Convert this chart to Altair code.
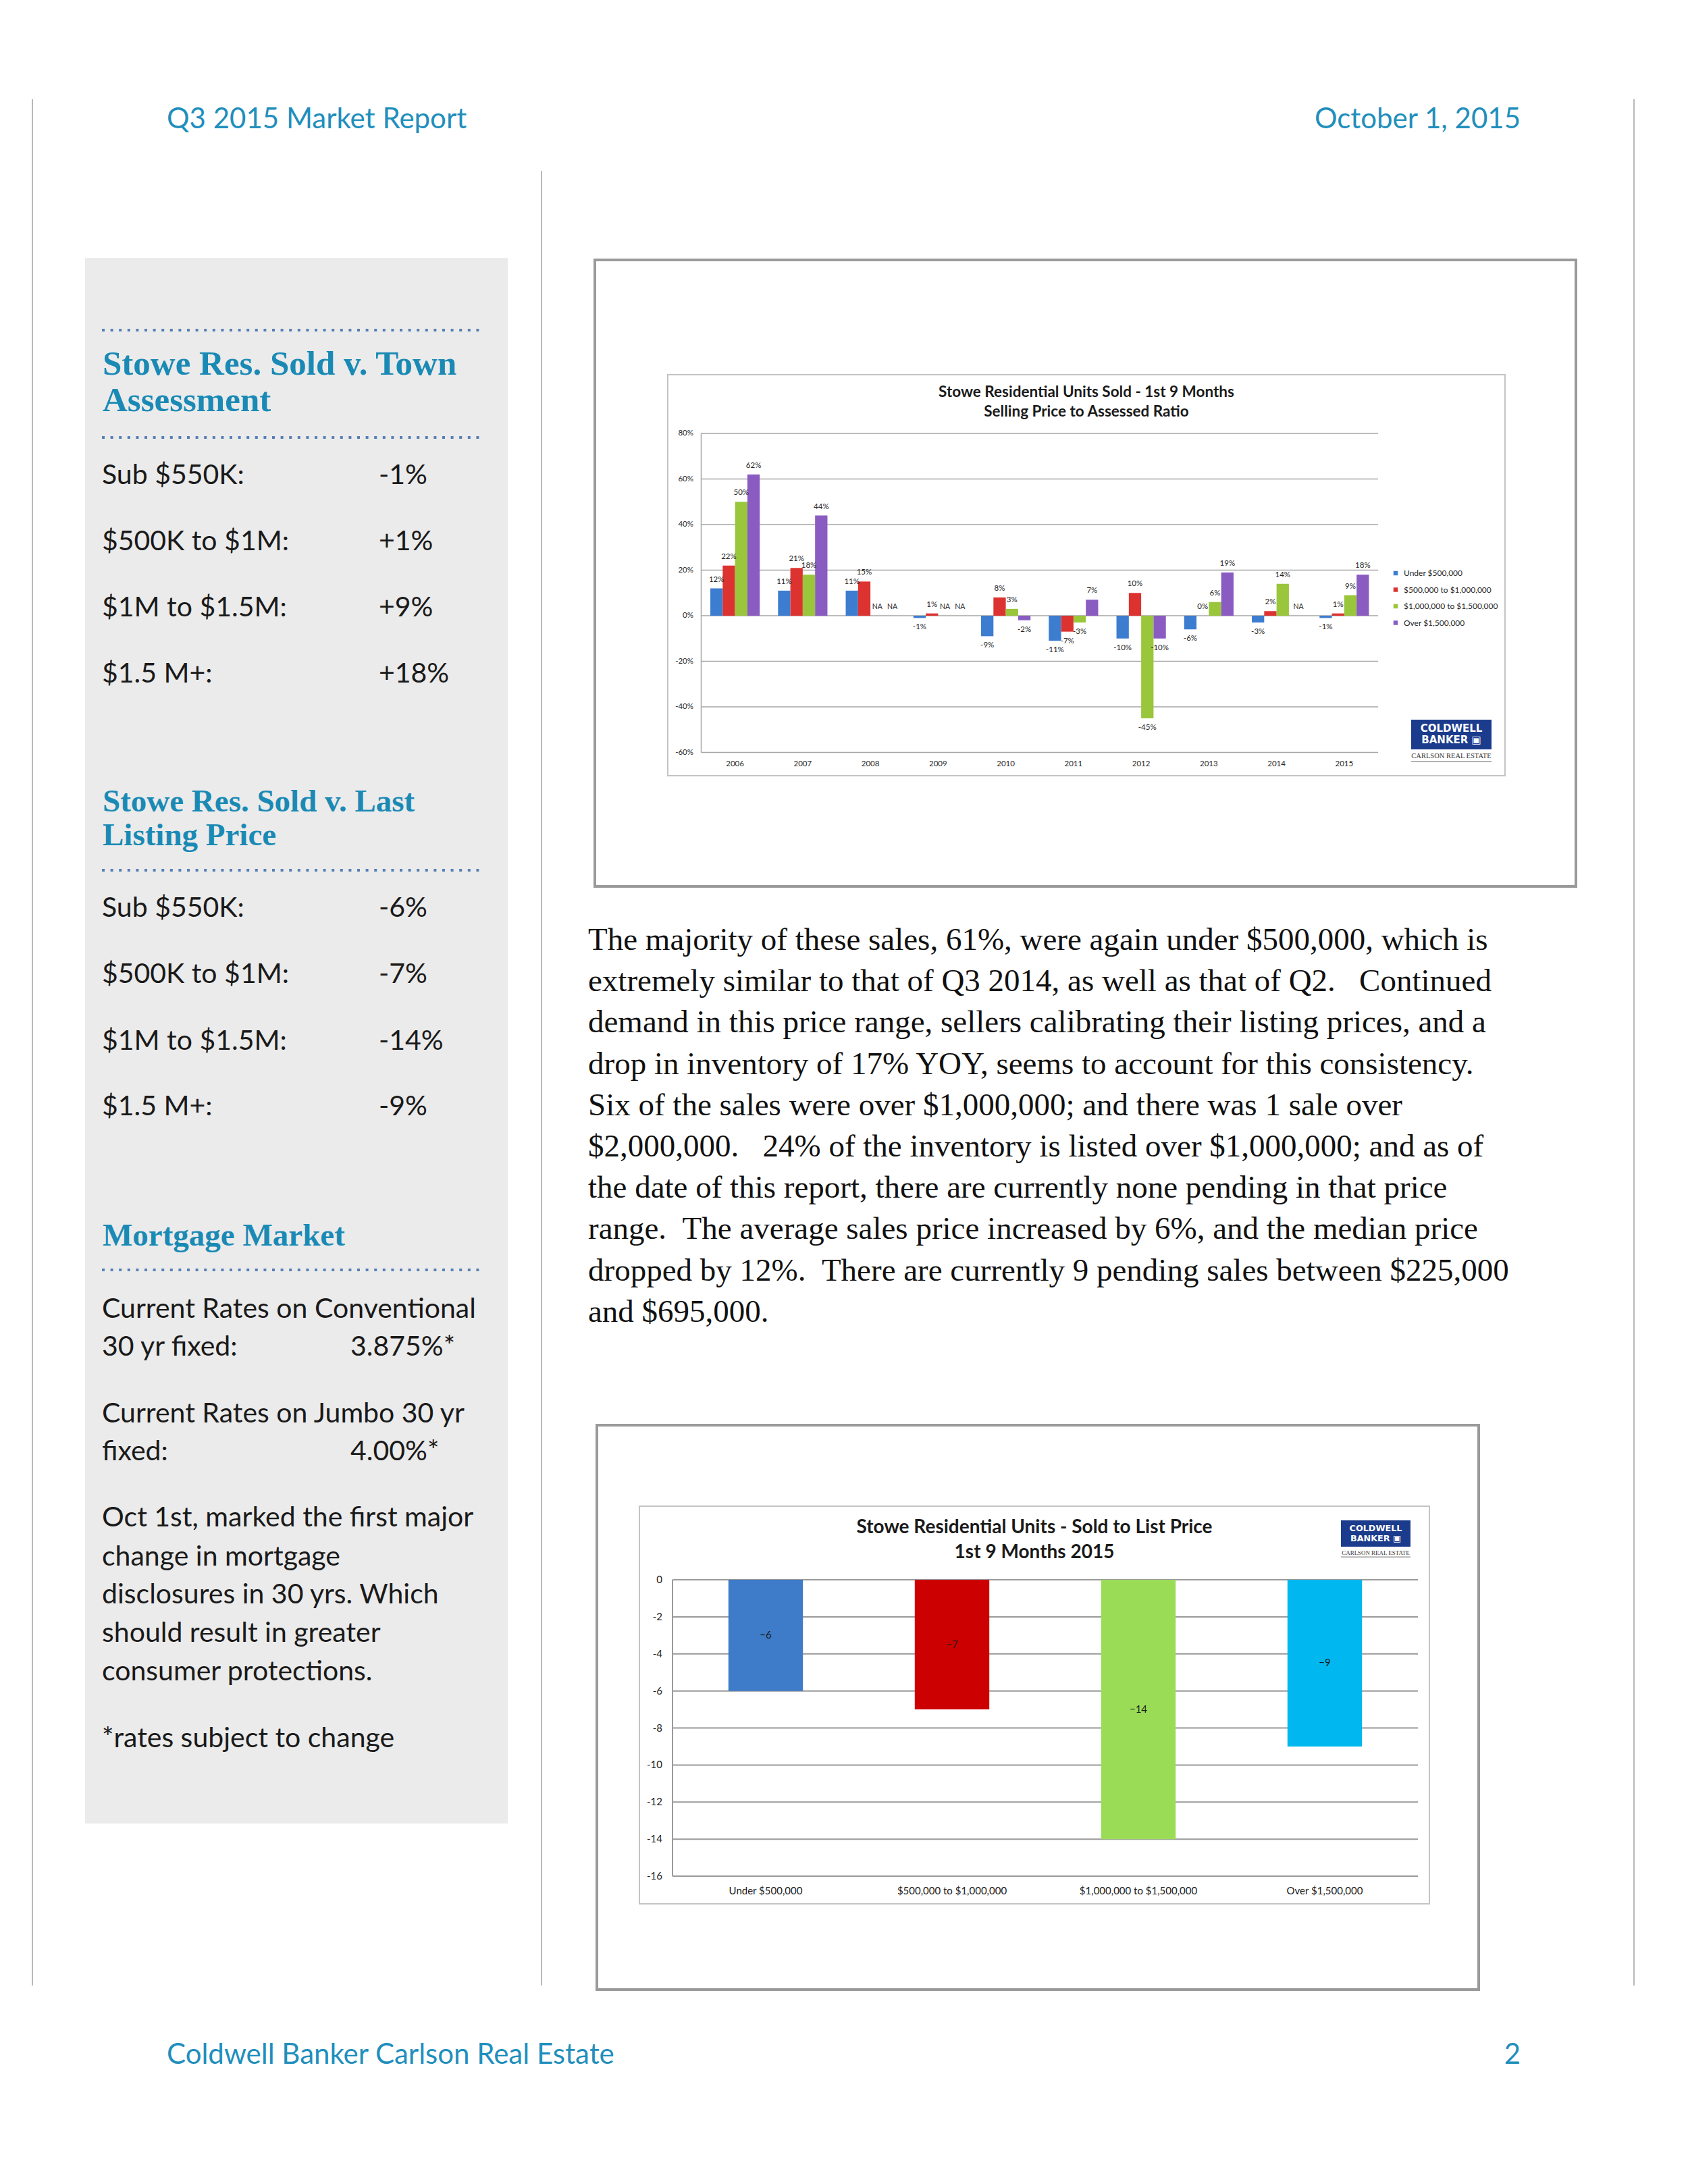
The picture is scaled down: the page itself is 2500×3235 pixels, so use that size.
import altair as alt
import pandas as pd

# ------------------------------------------------------------------ data
header_left = "Q3 2015 Market Report"
header_right = "October 1, 2015"
footer_left = "Coldwell Banker Carlson Real Estate"
footer_right = "2"

heading_1 = ["Stowe Res. Sold v. Town", "Assessment"]
heading_2 = ["Stowe Res. Sold v. Last", "Listing Price"]
heading_3 = ["Mortgage Market"]
bracket_labels = ["Sub $550K:", "$500K to $1M:", "$1M to $1.5M:", "$1.5 M+:"]
vs_assessment = ["-1%", "+1%", "+9%", "+18%"]
vs_listing = ["-6%", "-7%", "-14%", "-9%"]
mortgage_lines = ["Current Rates on Conventional", "30 yr fixed:",
                  "Current Rates on Jumbo 30 yr", "fixed:",
                  "Oct 1st, marked the first major", "change in mortgage",
                  "disclosures in 30 yrs. Which", "should result in greater",
                  "consumer protections.", "*rates subject to change"]
mortgage_rates = ["3.875%*", "4.00%*"]

paragraph = [
    "The majority of these sales, 61%, were again under $500,000, which is",
    "extremely similar to that of Q3 2014, as well as that of Q2.   Continued",
    "demand in this price range, sellers calibrating their listing prices, and a",
    "drop in inventory of 17% YOY, seems to account for this consistency.",
    "Six of the sales were over $1,000,000; and there was 1 sale over",
    "$2,000,000.   24% of the inventory is listed over $1,000,000; and as of",
    "the date of this report, there are currently none pending in that price",
    "range.  The average sales price increased by 6%, and the median price",
    "dropped by 12%.  There are currently 9 pending sales between $225,000",
    "and $695,000.",
]

# chart 1
chart1_title = ["Stowe Residential Units Sold - 1st 9 Months", "Selling Price to Assessed Ratio"]
years = ["2006", "2007", "2008", "2009", "2010", "2011", "2012", "2013", "2014", "2015"]
series = ["Under $500,000", "$500,000 to $1,000,000", "$1,000,000 to $1,500,000", "Over $1,500,000"]
under_500k = [12, 11, 11, -1, -9, -11, -10, -6, -3, -1]
from_500k_to_1m = [22, 21, 15, 1, 8, -7, 10, 0, 2, 1]
from_1m_to_1_5m = [50, 18, None, None, 3, -3, -45, 6, 14, 9]
over_1_5m = [62, 44, None, None, -2, 7, -10, 19, None, 18]
chart1_ticks = [80, 60, 40, 20, 0, -20, -40, -60]

# chart 2
chart2_title = ["Stowe Residential Units - Sold to List Price", "1st 9 Months 2015"]
price_ranges = ["Under $500,000", "$500,000 to $1,000,000", "$1,000,000 to $1,500,000", "Over $1,500,000"]
sold_to_list = [-6, -7, -14, -9]
chart2_ticks = [0, -2, -4, -6, -8, -10, -12, -14, -16]

logo_lines = ["COLDWELL", "BANKER \u25a3", "CARLSON REAL ESTATE"]

# ------------------------------------------------------------------ layout helpers
M = 8  # page margin


def P(v):
    return v - M


def keep_spaces(s):
    # SVG collapses runs of spaces; keep them with no-break spaces
    return s.replace("  ", "\u00a0\u00a0")


one = pd.DataFrame({"k": [0]})
TEAL = "#1f8fbd"
HEAD = "#1a8ab5"
SANS = "Lato"
SERIF = "Liberation Serif"


def box(x0, y0, x1, y1, **kw):
    return alt.Chart(one).mark_rect(**kw).encode(
        x=alt.value(P(x0)), x2=alt.value(P(x1)), y=alt.value(P(y0)), y2=alt.value(P(y1)))


def hline(x0, x1, y, **kw):
    return alt.Chart(one).mark_rule(**kw).encode(
        x=alt.value(P(x0)), x2=alt.value(P(x1)), y=alt.value(P(y)))


def vline(x, y0, y1, **kw):
    return alt.Chart(one).mark_rule(**kw).encode(
        x=alt.value(P(x)), y=alt.value(P(y0)), y2=alt.value(P(y1)))


def texts(lines, xs, ys, **kw):
    df = pd.DataFrame({"t": [keep_spaces(s) for s in lines],
                       "px": [P(v) for v in xs], "py": [P(v) for v in ys]})
    return alt.Chart(df).mark_text(**kw).encode(
        x=alt.X("px:Q", scale=None, axis=None),
        y=alt.Y("py:Q", scale=None, axis=None),
        text="t:N")


layers = []

# page rules
layers += [
    vline(48, 147, 2941, color="#b8b8b8", strokeWidth=2),
    vline(2420, 147, 2941, color="#b8b8b8", strokeWidth=2),
    vline(802, 253, 2941, color="#b8b8b8", strokeWidth=2),
]

# header / footer
layers += [
    texts([header_left], [247], [190], font=SANS, fontSize=42, color=TEAL, align="left", baseline="alphabetic"),
    texts([header_right], [2252], [190], font=SANS, fontSize=42, color=TEAL, align="right", baseline="alphabetic"),
    texts([footer_left], [247], [3057], font=SANS, fontSize=42, color=TEAL, align="left", baseline="alphabetic"),
    texts([footer_right], [2252], [3057], font=SANS, fontSize=42, color=TEAL, align="right", baseline="alphabetic"),
]

# sidebar
layers.append(box(126, 382, 752, 2701, color="#ebebeb"))
for yy in [489, 648, 1289, 1881]:
    layers.append(hline(151, 718, yy, color="#5580b6", strokeWidth=4, strokeDash=[4, 8.6]))

head_kw = dict(font=SERIF, fontWeight="bold", color=HEAD, align="left", baseline="alphabetic")
body_kw = dict(font=SANS, fontSize=41, color="#1a1a1a", align="left", baseline="alphabetic")
layers += [
    texts(heading_1, [152, 152], [555, 609], fontSize=51, **head_kw),
    texts(heading_2, [152, 152], [1202, 1252], fontSize=47, **head_kw),
    texts(heading_3, [152], [1845], fontSize=47, **head_kw),
    texts(bracket_labels, [151] * 4, [717, 815, 913, 1011], **body_kw),
    texts(vs_assessment, [561] * 4, [717, 815, 913, 1011], **body_kw),
    texts(bracket_labels, [151] * 4, [1358, 1456, 1555, 1652], **body_kw),
    texts(vs_listing, [561] * 4, [1358, 1456, 1555, 1652], **body_kw),
    texts(mortgage_lines, [151] * 10,
          [1952, 2008, 2107, 2163, 2261, 2319, 2375, 2432, 2489, 2588], **body_kw),
    texts(mortgage_rates, [519, 519], [2008, 2163], **body_kw),
]

# paragraph
layers.append(texts(paragraph, [871] * len(paragraph), [1407 + 61.2 * i for i in range(len(paragraph))],
                    font=SERIF, fontSize=47, color="#111111", align="left", baseline="alphabetic"))

# frames
FRAME = dict(fill="white", stroke="#9a9a9a", strokeWidth=4)
INNER = dict(fill="white", stroke="#c4c4c4", strokeWidth=2)
layers += [box(881, 385, 2334, 1313, **FRAME), box(989, 555, 2229, 1149, **INNER)]
layers += [box(884, 2111, 2190, 2947, **FRAME), box(947, 2231, 2117, 2820, **INNER)]


def logo(x0, y0, x1, y1, s):
    cx = (x0 + x1) / 2
    h = y1 - y0
    return [
        box(x0, y0, x1, y1, color="#1b3c8c"),
        texts(logo_lines[:2], [cx, cx], [y0 + h * 0.30, y0 + h * 0.68],
              font="DejaVu Sans", fontSize=15 * s, fontWeight="bold", color="white",
              align="center", baseline="middle"),
        texts([logo_lines[2]], [cx], [y1 + 10 * s], font=SERIF, fontSize=10.5 * s,
              color="#333333", align="center", baseline="middle"),
        hline(x0, x1, y1 + 18 * s, color="#999999", strokeWidth=1.5),
    ]


# ------------------------------------------------------------------ chart 1
C1_LEFT, C1_RIGHT, C1_TOP, C1_BOT = 1038.5, 2041, 642, 1114.5
x1 = alt.Scale(domain=years, range=[P(C1_LEFT), P(C1_RIGHT)], paddingInner=0.27, paddingOuter=0.135)
y1 = alt.Scale(domain=[-60, 80], range=[P(C1_BOT), P(C1_TOP)], nice=False, zero=False)
xo1 = alt.Scale(domain=series, paddingInner=0, paddingOuter=0)
colors1 = ["#3d7dd0", "#dc3330", "#9ac63c", "#8a5cc2"]

rows = []
for i, yr in enumerate(years):
    for s_name, vals in zip(series, [under_500k, from_500k_to_1m, from_1m_to_1_5m, over_1_5m]):
        rows.append({"year": yr, "series": s_name, "value": vals[i]})
df1 = pd.DataFrame(rows)
ticks1 = pd.DataFrame({"tick": chart1_ticks, "lab": [f"{t}%" for t in chart1_ticks]})

X1 = alt.X("year:N", scale=x1, axis=None)
XO1 = alt.XOffset("series:N", scale=xo1)
Y1 = alt.Y("value:Q", scale=y1, axis=None)
lab_kw = dict(font=SANS, fontSize=11.5, color="#262626", baseline="middle")
na_kw = dict(font=SANS, fontSize=10.5, color="#262626", baseline="middle", align="center", dy=-13)

c1_grid = alt.Chart(ticks1).mark_rule(color="#a6a6a6", strokeWidth=1.5).encode(
    y=alt.Y("tick:Q", scale=y1, axis=None), x=alt.value(P(C1_LEFT)), x2=alt.value(P(C1_RIGHT)))
c1_axis = alt.Chart(one).mark_rule(color="#a6a6a6", strokeWidth=1.5).encode(
    x=alt.value(P(C1_LEFT)), y=alt.Y(datum=-60, type="quantitative", scale=y1, axis=None), y2=alt.Y2(datum=80))
c1_ticklab = alt.Chart(ticks1).mark_text(align="right", **lab_kw).encode(
    y=alt.Y("tick:Q", scale=y1, axis=None), x=alt.value(P(1027)), text="lab:N")
c1_xlab = alt.Chart(pd.DataFrame({"year": years})).mark_text(align="center", **lab_kw).encode(
    x=X1, y=alt.value(P(1132)), text="year:N")
c1_bars = alt.Chart(df1).mark_bar().encode(
    x=X1, xOffset=XO1, y=Y1,
    color=alt.Color("series:N", scale=alt.Scale(domain=series, range=colors1),
                    legend=alt.Legend(orient="none", legendX=P(2061), legendY=P(843), title=None,
                                      symbolType="square", symbolSize=42, symbolStrokeWidth=0,
                                      labelFont=SANS, labelFontSize=12, labelColor="#262626",
                                      rowPadding=12.5, padding=0, labelOffset=6)))
c1_pos = alt.Chart(df1).transform_filter("isValid(datum.value) && datum.value >= 0").transform_calculate(
    lab="datum.value + '%'").mark_text(align="center", dy=-13, **lab_kw).encode(
    x=X1, xOffset=XO1, y=Y1, text="lab:N")
c1_neg = alt.Chart(df1).transform_filter("isValid(datum.value) && datum.value < 0").transform_calculate(
    lab="datum.value + '%'").mark_text(align="center", dy=14, **lab_kw).encode(
    x=X1, xOffset=XO1, y=Y1, text="lab:N")
Y0 = alt.Y(datum=0, type="quantitative", scale=y1, axis=None)
c1_na_a = alt.Chart(df1).transform_filter(
    f"!isValid(datum.value) && datum.series != '{series[3]}'").mark_text(dx=1, **na_kw).encode(
    x=X1, xOffset=XO1, y=Y0, text=alt.value("NA"))
c1_na_b = alt.Chart(df1).transform_filter(
    f"!isValid(datum.value) && datum.series == '{series[3]}'").mark_text(dx=5, **na_kw).encode(
    x=X1, xOffset=XO1, y=Y0, text=alt.value("NA"))

chart1 = alt.layer(c1_grid, c1_axis, c1_ticklab, c1_xlab, c1_bars, c1_pos, c1_neg, c1_na_a, c1_na_b)

layers += [
    texts(chart1_title, [1609, 1609], [581, 610], font=SANS, fontSize=22.5, fontWeight="bold",
          color="#1a1a1a", align="center", baseline="middle"),
    chart1,
]
layers += logo(2090, 1066, 2209, 1110, 1.0)

# ------------------------------------------------------------------ chart 2
C2_LEFT, C2_RIGHT, C2_TOP, C2_BOT = 996, 2100, 2340, 2779
x2 = alt.Scale(domain=price_ranges, range=[P(C2_LEFT), P(C2_RIGHT)], paddingInner=0.6, paddingOuter=0.3)
y2 = alt.Scale(domain=[-16, 0], range=[P(C2_BOT), P(C2_TOP)], nice=False, zero=False)
colors2 = ["#3e7bc8", "#cc0000", "#9bdc57", "#00b7ef"]
df2 = pd.DataFrame({"range": price_ranges, "value": sold_to_list})
ticks2 = pd.DataFrame({"tick": chart2_ticks, "lab": [str(t) for t in chart2_ticks]})
X2 = alt.X("range:N", scale=x2, axis=None)
lab2 = dict(font=SANS, fontSize=15, color="#1a1a1a", baseline="middle")

c2_grid = alt.Chart(ticks2).mark_rule(color="#9a9a9a", strokeWidth=2).encode(
    y=alt.Y("tick:Q", scale=y2, axis=None), x=alt.value(P(C2_LEFT)), x2=alt.value(P(C2_RIGHT)))
c2_axis = alt.Chart(one).mark_rule(color="#9a9a9a", strokeWidth=2).encode(
    x=alt.value(P(C2_LEFT)), y=alt.Y(datum=-16, type="quantitative", scale=y2, axis=None), y2=alt.Y2(datum=0))
c2_ticklab = alt.Chart(ticks2).mark_text(align="right", **lab2).encode(
    y=alt.Y("tick:Q", scale=y2, axis=None), x=alt.value(P(981)), text="lab:N")
c2_xlab = alt.Chart(df2).mark_text(align="center", font=SANS, fontSize=15, color="#1a1a1a",
                                   baseline="middle").encode(x=X2, y=alt.value(P(2801)), text="range:N")
c2_bars = alt.Chart(df2).mark_bar().encode(
    x=X2, y=alt.Y("value:Q", scale=y2, axis=None),
    color=alt.Color("range:N", scale=alt.Scale(domain=price_ranges, range=colors2), legend=None))
c2_vals = alt.Chart(df2).transform_calculate(mid="datum.value / 2").mark_text(
    align="center", **lab2).encode(x=X2, y=alt.Y("mid:Q", scale=y2, axis=None), text="value:Q")

chart2 = alt.layer(c2_grid, c2_axis, c2_ticklab, c2_xlab, c2_bars, c2_vals)

layers += [
    texts(chart2_title, [1532, 1532], [2263, 2300], font=SANS, fontSize=28, fontWeight="bold",
          color="#1a1a1a", align="center", baseline="middle"),
    chart2,
]
layers += logo(1986, 2252, 2089, 2291, 0.85)

# ------------------------------------------------------------------ page
chart = alt.layer(*layers).resolve_scale(
    x="independent", y="independent", color="independent"
).resolve_legend(color="independent").properties(
    width=2484, height=3210, padding=0,
    autosize=alt.AutoSizeParams(type="none"),
).configure_view(stroke=None)

chart.save("out.html", embed_options={"renderer": "svg", "actions": False})
